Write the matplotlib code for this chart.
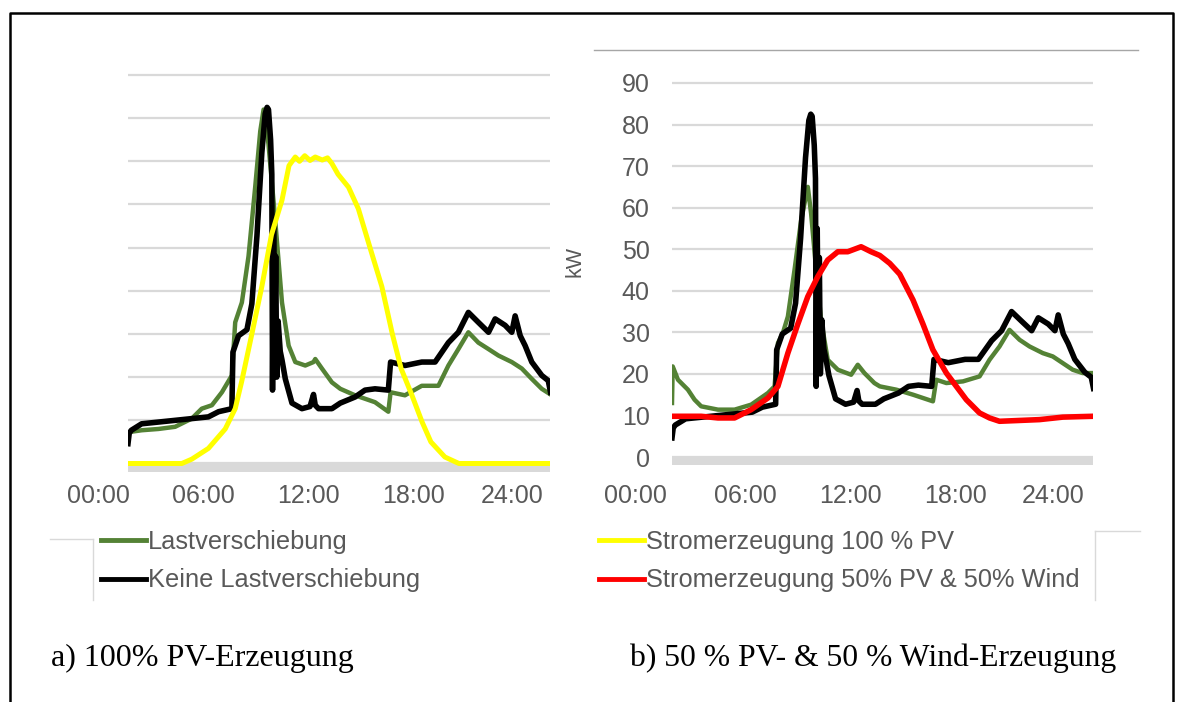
import matplotlib
matplotlib.use("Agg")
import matplotlib.pyplot as plt
from matplotlib.lines import Line2D
from matplotlib import transforms

# --- data (hours, kW) ---
t_black = [1.71, 1.78, 1.9, 2.49, 3.45, 4.4, 5.35, 6.3, 6.88, 7.64, 7.70, 8.02, 8.5, 8.78,
           9.07, 9.35, 9.54, 9.65, 9.73, 9.85, 9.92, 9.96, 10.02, 10.08, 10.14, 10.2,
           10.28, 10.4, 10.5, 10.69, 11.07, 11.64, 12.1, 12.3, 12.4, 12.59, 13.35, 13.83,
           14.67, 15.24, 15.81, 16.57, 16.7, 17.52, 18.48, 19.24, 20.0, 20.57, 21.14,
           21.71, 22.29, 22.67, 23.24, 23.62, 23.81, 24.1, 24.38, 24.76, 25.33, 25.7, 25.83]
p_black = [4.6, 7.0, 7.7, 9.2, 9.6, 10.0, 10.4, 10.8, 12.0, 12.7, 25.8, 29.6, 31.0, 37.0,
           52.7, 72.0, 81.0, 82.5, 82.0, 75.0, 67.0, 17.0, 55.0, 26.0, 48.0, 20.0,
           33.0, 26.0, 24.0, 19.6, 14.0, 12.7, 13.2, 16.0, 13.5, 12.7, 12.7, 14.0,
           15.4, 17.0, 17.3, 17.0, 23.5, 22.7, 23.5, 23.5, 28.0, 30.4, 35.0,
           32.7, 30.4, 33.5, 32.0, 30.4, 34.2, 29.6, 27.3, 23.5, 20.4, 19.2, 16.5]

t_green_a = [1.71, 1.8, 2.49, 3.45, 4.4, 5.35, 5.92, 6.5, 7.07, 7.64, 7.83, 8.21, 8.59,
             8.97, 9.26, 9.45, 9.73, 10.11, 10.5, 10.88, 11.26, 11.83, 12.3, 12.4, 12.78,
             13.35, 13.83, 14.67, 15.81, 16.57, 16.7, 17.52, 18.48, 19.43, 20.0, 20.57,
             21.14, 21.71, 22.29, 22.86, 23.62, 24.19, 24.76, 25.33, 25.83]
p_green_a = [6.5, 7.3, 7.7, 8.0, 8.5, 10.4, 12.7, 13.5, 16.5, 20.4, 32.7, 37.3, 48.0,
             64.0, 77.0, 82.0, 74.0, 56.5, 37.3, 27.3, 23.5, 22.7, 23.5, 24.2, 22.0,
             18.8, 17.3, 15.8, 14.2, 12.0, 16.5, 15.8, 18.0, 18.0, 22.7, 26.5,
             30.4, 28.0, 26.5, 25.0, 23.5, 22.0, 19.6, 17.3, 16.0]

t_green_b = [1.71, 1.75, 2.05, 2.62, 3.0, 3.38, 4.34, 5.29, 6.24, 7.2, 7.58, 7.77, 8.05,
             8.34, 8.72, 9.1, 9.48, 9.67, 9.96, 10.24, 10.62, 11.2, 11.96, 12.34, 12.72,
             13.29, 13.6, 14.55, 15.5, 16.64, 16.83, 17.41, 18.36, 19.31, 19.88, 20.45,
             21.02, 21.6, 22.17, 22.93, 23.5, 24.07, 24.64, 25.21, 25.8]
p_green_b = [13.0, 21.8, 18.6, 16.2, 13.8, 12.2, 11.4, 11.4, 12.6, 15.4, 17.0, 27.4, 29.8,
             33.8, 45.0, 57.0, 65.0, 58.6, 45.0, 33.0, 23.4, 21.0, 19.8, 22.2, 20.2,
             17.8, 17.0, 16.2, 15.0, 13.4, 18.6, 17.8, 18.2, 19.4, 23.4, 26.6,
             30.6, 28.2, 26.6, 25.0, 24.2, 22.6, 21.0, 20.2, 20.2]

t_pv = [1.71, 4.78, 5.35, 6.3, 7.26, 7.83, 8.2, 8.78, 9.35, 9.9, 10.5, 10.9, 11.26, 11.5,
        11.8, 12.1, 12.4, 12.8, 13.1, 13.35, 13.7, 14.3, 14.86, 15.6, 16.2, 16.8, 17.3,
        17.9, 18.5, 19.0, 19.8, 20.6, 25.83]
p_pv = [0, 0, 1, 3.5, 8, 12.7, 19, 30, 41, 53, 61, 69, 71, 70,
        71.3, 70.2, 71, 70.3, 70.8, 69.5, 67, 64, 59, 49, 41, 30, 22,
        16, 9.6, 5, 1.5, 0, 0]

t_mix = [1.71, 3.38, 4.34, 5.29, 6.24, 7.2, 7.77, 8.34, 8.91, 9.48, 10.05, 10.62, 11.2,
         11.77, 12.53, 13.1, 13.6, 14.17, 14.74, 15.5, 16.07, 16.64, 17.41, 17.98, 18.55,
         19.31, 19.88, 20.45, 21.6, 22.74, 24.07, 25.8]
p_mix = [9.8, 9.8, 9.4, 9.4, 11.4, 14.2, 17, 25, 32, 38.6, 43.4, 47.4, 49.4,
         49.4, 50.6, 49.4, 48.5, 46.6, 44, 37.8, 32, 25.8, 20.2, 17, 13.8,
         10.6, 9.4, 8.6, 8.8, 9.0, 9.6, 9.8]

tick_labels = ["00:00", "06:00", "12:00", "18:00", "24:00"]
ticks_a = [0, 6, 12, 18, 23.66]
ticks_b = [-0.4, 5.88, 11.92, 17.92, 23.54]
y_ticks = list(range(0, 100, 10))

names = ["Lastverschiebung", "Keine Lastverschiebung",
         "Stromerzeugung 100 % PV", "Stromerzeugung 50% PV & 50% Wind"]
captions = ["a) 100% PV-Erzeugung", "b) 50 % PV- & 50 % Wind-Erzeugung"]

GREEN, BLACK, YELLOW, RED = "#548235", "#000000", "#ffff00", "#ff0000"
GRAY_TXT = "#595959"
GRID = "#d9d9d9"

W, H = 1184, 702


def fx(px):
    return px / W


def fy(py):
    return 1 - py / H


plt.rcParams["font.family"] = ["Liberation Sans", "DejaVu Sans"]
fig = plt.figure(figsize=(W / 100, H / 100), dpi=100)

ax1 = fig.add_axes([fx(128), fy(472), fx(550) - fx(128), fy(73) - fy(472)])
ax2 = fig.add_axes([fx(672), fy(464.5), fx(1093) - fx(672), fy(81) - fy(464.5)])


def style(ax, ybot, ytop, ticks):
    ax.set_xlim(1.71, 25.8)
    ax.set_ylim(ybot, ytop)
    ax.set_yticks(y_ticks)
    ax.yaxis.grid(True, color=GRID, lw=1.6)
    ax.set_axisbelow(True)
    ax.axhspan(ybot, 0, color=GRID, lw=0, zorder=1)
    for s in ax.spines.values():
        s.set_visible(False)
    ax.set_xticks([])
    ax.tick_params(axis="y", length=0, labelsize=18, labelcolor=GRAY_TXT, pad=16)
    tr = transforms.blended_transform_factory(ax.transData, fig.transFigure)
    for x, lab in zip(ticks, tick_labels):
        ax.text(x, fy(496), lab, transform=tr, ha="center", va="center",
                fontsize=18, color=GRAY_TXT, clip_on=False)


style(ax1, -1.97, 90.46, ticks_a)
ax1.set_yticklabels([])
style(ax2, -1.8, 90.48, ticks_b)

ax1.plot(t_green_a, p_green_a, color=GREEN, lw=3.2, zorder=3)
ax1.plot(t_black, p_black, color=BLACK, lw=4.0, zorder=4)
ax1.plot(t_pv, p_pv, color=YELLOW, lw=3.6, zorder=5)

ax2.plot(t_green_b, p_green_b, color=GREEN, lw=3.2, zorder=3)
ax2.plot(t_black, p_black, color=BLACK, lw=4.0, zorder=4)
ax2.plot(t_mix, p_mix, color=RED, lw=4.0, zorder=5)

fig.text(fx(575), fy(262), "kW", rotation=90, ha="center", va="center",
         fontsize=15.5, color=GRAY_TXT)

# legends below the charts
h = [Line2D([], [], color=c, lw=3.5) for c in (GREEN, BLACK, YELLOW, RED)]
for hs, ls, xl in ((h[:2], names[:2], 101), (h[2:], names[2:], 599)):
    fig.legend(hs, ls, loc="upper left", bbox_to_anchor=(fx(xl), fy(530)),
               frameon=False, fontsize=18.3, labelcolor=GRAY_TXT, handlelength=1.77,
               handletextpad=0.08, labelspacing=0.57, borderpad=0, borderaxespad=0)

# captions
fig.text(fx(51), fy(658), captions[0], fontsize=23, family="Liberation Serif",
         va="center", ha="left")
fig.text(fx(630), fy(658), captions[1], fontsize=22.8, family="Liberation Serif",
         va="center", ha="left")

# leftover frame pieces of the source charts
frame = "#d9d9d9"
for xs, ys, c in (([50, 93], [539, 539], frame), ([93, 93], [539, 600], frame),
                  ([1095, 1140], [531, 531], frame), ([1095, 1095], [531, 600], frame),
                  ([594, 1138], [50, 50], "#a6a6a6")):
    fig.add_artist(Line2D([fx(v) for v in xs], [fy(v) for v in ys], color=c, lw=1))

# outer black border (open at the bottom)
fig.add_artist(Line2D([fx(10), fx(10), fx(1173), fx(1173)],
                      [fy(702), fy(13), fy(13), fy(702)], color="black", lw=1.8))

fig.savefig("out.png", dpi=100)
